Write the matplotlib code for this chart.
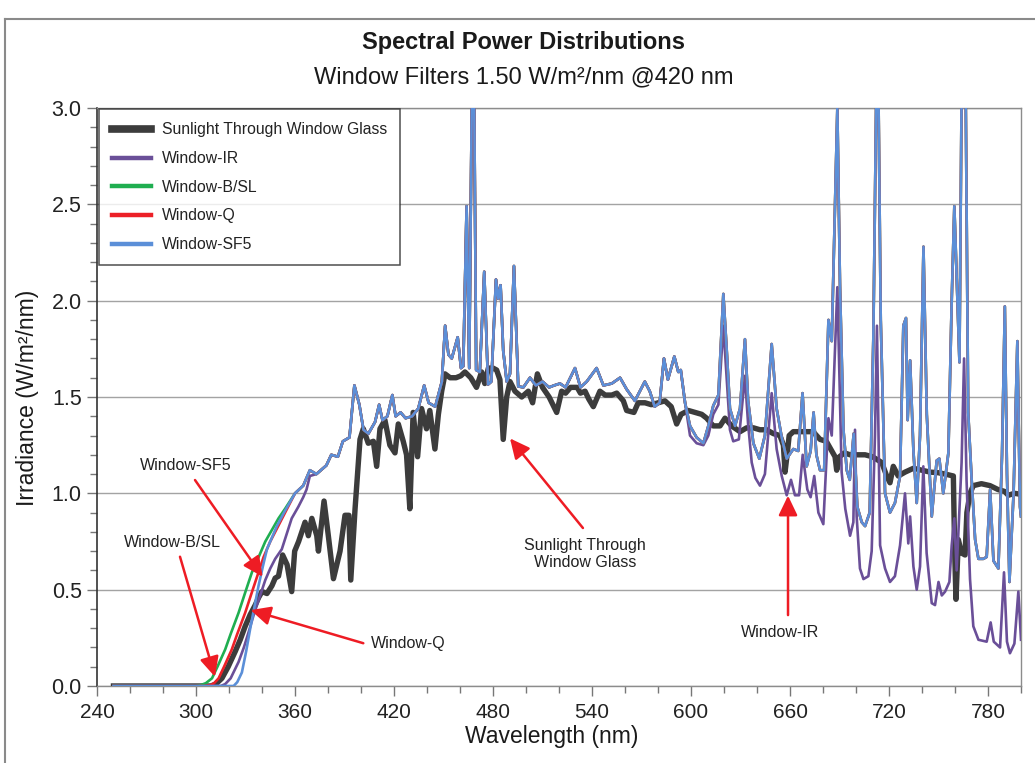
import numpy as np
import matplotlib
matplotlib.use("Agg")
import matplotlib.pyplot as plt
from matplotlib.lines import Line2D

plt.rcParams['font.family'] = ['Liberation Sans', 'DejaVu Sans']

# ---------------- data (wavelength nm, irradiance W/m2/nm) ----------------
sunlight = [(250, 0), (309, 0), (312, 0.01), (315.7, 0.04), (319.5, 0.10), (323.8, 0.18),
            (326.8, 0.24), (329.8, 0.31), (332.8, 0.37), (335.9, 0.42), (338, 0.46), (340, 0.49),
            (343, 0.48), (346, 0.52), (348, 0.56), (350, 0.57), (352.5, 0.68), (355.2, 0.63),
            (358, 0.49), (359.8, 0.70), (362.2, 0.75), (366.1, 0.85), (368.1, 0.78), (370.2, 0.87),
            (373.2, 0.78), (374.2, 0.70), (377.6, 0.96), (380.2, 0.78), (383.3, 0.557), (387.3, 0.70),
            (390.3, 0.886), (392.7, 0.886), (393.8, 0.55), (396.4, 0.92), (399.4, 1.28), (401.4, 1.335),
            (404.4, 1.26), (407.5, 1.27), (409.5, 1.14), (411.5, 1.335), (414.5, 1.38), (417.5, 1.25),
            (420.6, 1.21), (422.6, 1.36), (425.6, 1.27), (427.6, 1.20), (429.6, 0.92), (431.6, 1.42),
            (434.3, 1.19), (436.7, 1.44), (439.7, 1.335), (441.7, 1.43), (444.8, 1.23), (446.9, 1.41),
            (448.9, 1.53), (450.9, 1.62), (454, 1.60), (457.6, 1.60), (460.5, 1.61), (463, 1.63),
            (466.5, 1.60), (470, 1.55), (473.1, 1.63), (475, 1.57), (477.2, 1.65), (480, 1.65),
            (482.2, 1.64), (484.2, 1.59), (486.2, 1.28), (488.3, 1.50), (490.3, 1.58), (493.3, 1.53),
            (497.4, 1.50), (501.4, 1.53), (504, 1.47), (506.9, 1.62), (510, 1.55), (514, 1.50),
            (518.6, 1.42), (521.6, 1.53), (524, 1.52), (527, 1.55), (531, 1.55), (533, 1.52),
            (535.8, 1.53), (538, 1.49), (540.8, 1.45), (544.8, 1.53), (548, 1.51), (552, 1.51),
            (555, 1.52), (559, 1.48), (561, 1.43), (565.4, 1.42), (568, 1.47), (572.1, 1.47),
            (576, 1.46), (580, 1.47), (584.2, 1.48), (588, 1.45), (591.3, 1.36), (594, 1.41),
            (598.4, 1.43), (602.4, 1.42), (606.5, 1.41), (609.5, 1.39), (613.5, 1.35), (617.6, 1.35),
            (620.6, 1.39), (624.6, 1.35), (629.7, 1.32), (633.7, 1.34), (637.8, 1.34), (641.8, 1.33),
            (645.8, 1.33), (649.9, 1.31), (653.9, 1.30), (656, 1.25), (657, 1.11), (658.5, 1.22),
            (659.5, 1.30), (662, 1.32), (666, 1.32), (670, 1.32), (674, 1.32), (678.2, 1.28),
            (682, 1.27), (687.3, 1.19), (688.3, 1.12), (690, 1.19), (693, 1.21), (696.4, 1.20),
            (700, 1.20), (705.5, 1.20), (710, 1.19), (715.6, 1.16), (718.6, 1.09), (720.6, 1.055),
            (722.6, 1.14), (725.6, 1.09), (729.7, 1.11), (734.8, 1.13), (740, 1.12), (745, 1.11),
            (749.9, 1.107), (754, 1.10), (759, 1.09), (759.8, 0.70), (760.6, 0.45), (762, 0.76),
            (764, 0.69), (766.1, 0.68), (767.2, 0.90), (769.1, 1.0), (771.1, 1.04), (776, 1.05),
            (781.2, 1.04), (786, 1.02), (790, 1.01), (792.3, 0.99), (796, 1.0), (800, 0.995)]

# UV cut-on part of each filter
ir_rise = [(250, 0), (315, 0), (317.7, 0.01), (321, 0.04), (325.8, 0.125), (329, 0.20),
           (331.9, 0.28), (335, 0.37), (338.9, 0.47), (342, 0.55), (345, 0.61), (348, 0.66),
           (352, 0.71), (355, 0.79), (358, 0.87), (362, 0.93), (365, 0.98), (367, 1.02), (369, 1.09)]
bsl_rise = [(250, 0), (300, 0), (303, 0.005), (306, 0.015), (309.7, 0.04), (313, 0.10),
            (317.7, 0.19), (321, 0.27), (325.8, 0.38), (330, 0.49), (333.9, 0.59), (338, 0.67),
            (342, 0.75), (346, 0.81), (350, 0.87), (354, 0.92), (357, 0.96)]
q_rise = [(250, 0), (305, 0), (309, 0.005), (311, 0.015), (313.7, 0.04), (317, 0.10),
          (321.7, 0.19), (325, 0.27), (329.8, 0.38), (334, 0.49), (337.9, 0.59), (341, 0.67),
          (345, 0.75), (348, 0.80), (351, 0.85), (354, 0.90), (357, 0.95)]
sf5_rise = [(250, 0), (322.8, 0), (325, 0.02), (327.8, 0.07), (330.4, 0.18), (332.9, 0.30),
            (335.4, 0.41), (337.9, 0.52), (340.5, 0.62), (343, 0.71), (346, 0.77), (349, 0.83),
            (351.5, 0.87), (354, 0.91), (357, 0.955)]

# visible part shared by the filtered lamps (360-595 nm)
filter_mid = [(360, 1.00), (365, 1.04), (369, 1.12), (373, 1.10), (379, 1.145), (382, 1.20),
              (386, 1.19), (389, 1.27), (393, 1.29), (396, 1.56), (399, 1.46), (401.5, 1.33),
              (404.5, 1.31), (408.5, 1.37), (411, 1.46), (413, 1.38), (416, 1.40), (419, 1.51),
              (421, 1.40), (424, 1.42), (427, 1.39), (431, 1.40), (434.7, 1.44), (438.3, 1.56),
              (441, 1.47), (445, 1.45), (449, 1.58), (451, 1.87), (453, 1.72), (455, 1.70),
              (458.6, 1.81), (460.6, 1.65), (462, 1.66), (464, 2.49), (465.6, 1.65), (468, 3.8),
              (469.8, 1.64), (472, 1.63), (474.7, 2.15), (477, 1.565), (479, 1.58), (481.8, 2.11),
              (483.2, 2.01), (484.6, 2.08), (486.2, 1.74), (488.3, 1.58), (490.3, 1.62), (492.7, 2.18),
              (495.3, 1.555), (498.4, 1.55), (502.4, 1.60), (506, 1.56), (510, 1.58), (514, 1.55),
              (517, 1.56), (520.6, 1.57), (524, 1.55), (529.7, 1.65), (533, 1.55), (536.8, 1.58),
              (542.8, 1.65), (546.9, 1.56), (552, 1.57), (557, 1.60), (561, 1.54), (566, 1.48),
              (572, 1.58), (575, 1.53), (578, 1.45), (581, 1.47), (583.6, 1.70), (586, 1.59),
              (589.9, 1.71), (592.3, 1.63), (593.8, 1.64)]

# red/far-red part for Window-B/SL, Window-Q, Window-SF5
filter_tail = [(596.4, 1.47), (599.4, 1.35), (603.4, 1.29), (607.5, 1.26), (610.5, 1.35),
               (613.5, 1.455), (616.6, 1.51), (619.6, 2.035), (621.6, 1.75), (623.6, 1.44),
               (626.7, 1.35), (629.7, 1.44), (632.7, 1.80), (634.6, 1.48), (637.8, 1.26),
               (641.4, 1.18), (644.8, 1.30), (648.9, 1.775), (651.9, 1.44), (655, 1.29),
               (658, 1.18), (662, 1.23), (665, 1.22), (667.6, 1.52), (670.1, 1.14),
               (672.5, 1.22), (674.3, 1.42), (676, 1.20), (678.2, 1.12), (680.7, 1.12),
               (683.3, 1.90), (685.3, 1.79), (688.7, 3.0), (690.3, 2.08), (692.4, 1.33),
               (694.4, 1.12), (696.2, 1.07), (698.6, 1.31), (700.8, 0.93), (703.5, 0.85),
               (705.5, 0.83), (708.3, 0.90), (710.5, 1.8), (713, 3.6), (715, 1.9),
               (717.6, 1.0), (720.6, 0.90), (723.6, 0.95), (726.7, 1.09), (728.7, 1.87),
               (730.3, 1.91), (731.3, 1.38), (732.8, 1.69), (734.8, 1.22), (736.8, 0.95),
               (738.8, 1.30), (740.9, 2.28), (742.9, 1.41), (745.9, 0.88), (748.9, 1.17),
               (750.5, 1.18), (752.9, 1.00), (756, 1.21), (758, 2.0), (759.6, 2.49),
               (762.7, 1.68), (764.5, 3.6), (766, 3.6), (768, 1.42), (770.1, 1.07),
               (772.2, 0.76), (774.2, 0.66), (777.2, 0.66), (779.2, 0.67), (781.3, 1.02),
               (783.3, 0.65), (786.3, 0.61), (788.5, 1.2), (790.2, 1.97), (791.5, 1.1),
               (793, 0.54), (795.5, 1.0), (797.8, 1.79), (799.4, 0.93), (800, 0.88)]

# red/far-red part for Window-IR
ir_tail = [(596.4, 1.47), (599.4, 1.30), (603.4, 1.26), (607.5, 1.25), (610.5, 1.30),
           (613.5, 1.41), (616.6, 1.46), (619.6, 1.87), (621.6, 1.60), (623.6, 1.33),
           (625.6, 1.27), (629, 1.28), (632.7, 1.61), (634.6, 1.36), (636.8, 1.16),
           (639, 1.08), (641.8, 1.04), (644.8, 1.10), (648.9, 1.52), (651.9, 1.23),
           (655, 1.09), (658, 0.99), (660.6, 1.07), (663, 0.99), (665.5, 0.99),
           (667.7, 1.20), (670.5, 1.02), (672.5, 0.98), (674.7, 1.09), (677.2, 0.90),
           (680.2, 0.84), (683.3, 1.39), (685.3, 1.30), (688.7, 2.07), (691.3, 1.11),
           (693.5, 0.92), (696.4, 0.78), (698.4, 0.85), (699.4, 1.33), (700.4, 0.88),
           (702.4, 0.61), (704.5, 0.555), (707.5, 0.57), (709.5, 0.70), (711.5, 1.3),
           (712.7, 1.87), (714.6, 0.73), (717.6, 0.61), (720.6, 0.54), (723.6, 0.57),
           (726.7, 0.73), (729.7, 1.0), (731.7, 0.74), (732.8, 0.88), (734.8, 0.62),
           (736.8, 0.50), (738.8, 0.62), (740.8, 1.14), (742.8, 0.69), (745.9, 0.43),
           (747.9, 0.42), (750, 0.54), (752, 0.47), (754, 0.49), (756.6, 0.54),
           (758, 0.73), (759.6, 0.87), (761, 0.60), (764, 1.16), (765.5, 1.70),
           (767, 1.07), (769.1, 0.555), (771.1, 0.31), (774.2, 0.24), (779.2, 0.23),
           (781.6, 0.33), (783.5, 0.23), (787.3, 0.20), (789.7, 0.59), (791.5, 0.23),
           (793.3, 0.17), (796, 0.22), (798.4, 0.49), (800, 0.24)]

series_names = ["Sunlight Through Window Glass", "Window-IR", "Window-B/SL", "Window-Q", "Window-SF5"]
x_ticks = [240, 300, 360, 420, 480, 540, 600, 660, 720, 780]
y_ticks = [0.0, 0.5, 1.0, 1.5, 2.0, 2.5, 3.0]


def unzip(pairs):
    a = np.array(pairs, dtype=float)
    return a[:, 0], a[:, 1]


def join(*parts):
    xs, ys = zip(*[unzip(p) for p in parts])
    return np.concatenate(xs), np.concatenate(ys)


mid_after_ir = [p for p in filter_mid if p[0] > 370]
sun_x, sun_y = unzip(sunlight)
ir_x, ir_y = join(ir_rise, mid_after_ir, ir_tail)
bsl_x, bsl_y = join(bsl_rise, filter_mid, filter_tail)
q_x, q_y = join(q_rise, filter_mid, filter_tail)
sf5_x, sf5_y = join(sf5_rise, filter_mid, filter_tail)

colors = ['#3c3c3c', '#6a4f98', '#1fae50', '#ec2027', '#5b8fd8']

# ---------------- figure ----------------
fig = plt.figure(figsize=(10.35, 7.63), dpi=100)
ax = fig.add_axes([97 / 1035, 1 - 686 / 763, 924 / 1035, 578 / 763])

ax.plot(sun_x, sun_y, color=colors[0], lw=3.9, solid_joinstyle='round', zorder=3)
ax.plot(ir_x, ir_y, color=colors[1], lw=1.9, zorder=4)
ax.plot(bsl_x, bsl_y, color=colors[2], lw=1.9, zorder=5)
ax.plot(q_x, q_y, color=colors[3], lw=1.9, zorder=6)
ax.plot(sf5_x, sf5_y, color=colors[4], lw=1.9, zorder=7)

ax.set_xlim(240, 800)
ax.set_ylim(0, 3.0)
ax.set_xticks(x_ticks)
ax.set_xticks(np.arange(240, 801, 20), minor=True)
ax.set_yticks(y_ticks)
ax.set_yticklabels([f"{v:.1f}" for v in y_ticks])
ax.set_yticks(np.arange(0, 3.001, 0.1), minor=True)
ax.tick_params(axis='both', which='major', direction='out', length=7, width=1,
               color='#777777', labelsize=15, pad=4, labelcolor='#222222')
ax.tick_params(axis='both', which='minor', direction='out', length=5, width=1, color='#777777')
ax.tick_params(axis='x', which='major', pad=5)
ax.tick_params(axis='y', which='major', labelsize=15.5)

ax.yaxis.grid(True, color='#a3a3a3', lw=1)
ax.set_axisbelow(True)
for s in ['top', 'right', 'bottom']:
    ax.spines[s].set_color('#8c8c8c')
    ax.spines[s].set_linewidth(1)
ax.spines['left'].set_color('#333333')
ax.spines['left'].set_linewidth(1.2)

# legend
handles = [Line2D([], [], color=colors[0], lw=5.5)] + \
          [Line2D([], [], color=c, lw=3.2) for c in colors[1:]]
leg = ax.legend(handles, series_names, loc='upper left', bbox_to_anchor=(0.002, 0.998),
                fontsize=11.3, frameon=True, fancybox=False, edgecolor='#222222',
                handlelength=2.45, handletextpad=0.7, labelspacing=0.87, borderpad=0.85,
                borderaxespad=0)
leg.get_frame().set_linewidth(1.1)
for t in leg.get_texts():
    t.set_color('#222222')
leg.set_zorder(10)

# annotations
akw = dict(arrowstyle='-|>,head_length=0.75,head_width=0.36', color='#ee1c24', lw=1.8,
           mutation_scale=16, shrinkA=0, shrinkB=0)
tkw = dict(fontsize=11.5, color='#222222', ha='center', va='center', zorder=12)

ax.text(293.9, 1.142, 'Window-SF5', **tkw)
ax.annotate('', xy=(340.4, 0.567), xytext=(299.4, 1.069), arrowprops=akw, zorder=11)

ax.text(285.5, 0.747, 'Window-B/SL', **tkw)
ax.annotate('', xy=(311.5, 0.048), xytext=(290.3, 0.671), arrowprops=akw, zorder=11)

ax.text(428.5, 0.218, 'Window-Q', **tkw)
ax.annotate('', xy=(333.1, 0.394), xytext=(401.4, 0.222), arrowprops=akw, zorder=11)

ax.text(535.8, 0.685, 'Sunlight Through\nWindow Glass', linespacing=1.15, **tkw)
ax.annotate('', xy=(490.3, 1.285), xytext=(534.5, 0.82), arrowprops=akw, zorder=11)

ax.text(654, 0.28, 'Window-IR', **tkw)
ax.annotate('', xy=(658.8, 0.988), xytext=(658.8, 0.368), arrowprops=akw, zorder=11)

# titles and axis labels
fig.text(524 / 1035, 1 - 42 / 763, 'Spectral Power Distributions', ha='center', va='center',
         fontsize=17, fontweight='bold', color='#1a1a1a')
fig.text(524 / 1035, 1 - 77 / 763, 'Window Filters 1.50 W/m²/nm @420 nm', ha='center',
         va='center', fontsize=17, color='#1a1a1a')
fig.text(28 / 1035, 1 - 397.5 / 763, 'Irradiance (W/m²/nm)', rotation=90, ha='center',
         va='center', fontsize=16.5, color='#1a1a1a')
fig.text(552 / 1035, 1 - 737 / 763, 'Wavelength (nm)', ha='center', va='center',
         fontsize=16.5, color='#1a1a1a')

# outer frame (left and top edges visible in the reference)
fig.add_artist(Line2D([5 / 1035, 5 / 1035], [0, 1 - 19 / 763], transform=fig.transFigure,
                      color='#8a8a8a', lw=1.5))
fig.add_artist(Line2D([5 / 1035, 1], [1 - 19 / 763, 1 - 19 / 763], transform=fig.transFigure,
                      color='#8a8a8a', lw=1.5))

fig.savefig('out.png', dpi=100)
